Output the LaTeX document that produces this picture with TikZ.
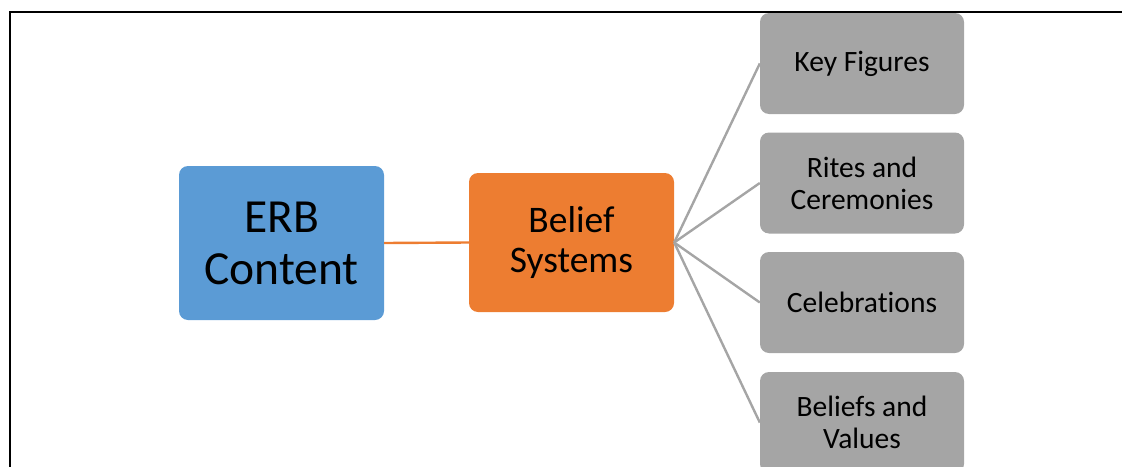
\documentclass[tikz,border=0pt]{standalone}
\usepackage{fontspec}
\setmainfont{Carlito}[Ligatures={NoCommon}]
\definecolor{erbblue}{RGB}{91,155,213}
\definecolor{erborange}{RGB}{237,125,49}
\definecolor{erbgrey}{RGB}{165,165,165}
\tikzset{
  box/.style={
    rectangle,
    rounded corners=9pt,
    align=center,
    inner sep=0pt,
    text=black
  },
  box-blue/.style={box, fill=erbblue, minimum width=205pt, minimum height=154pt,
    font=\fontsize{47.5}{52}\selectfont},
  box-orange/.style={box, fill=erborange, minimum width=205pt, minimum height=139pt,
    font=\fontsize{37.5}{40}\selectfont},
  box-grey/.style={box, fill=erbgrey, minimum width=204pt, minimum height=101pt,
    font=\fontsize{29.5}{32}\selectfont},
  link-orange/.style={draw=erborange, line width=2.4pt},
  link-grey/.style={draw=erbgrey, line width=2.4pt},
  frame/.style={draw=black, line width=2pt}
}

\begin{document}
\begin{tikzpicture}[x=1pt, y=-1pt]
  \useasboundingbox (0,0) rectangle (1122,466);
  \draw[frame] (10,12) rectangle (1160,500);

  % Main nodes
  \node[box-blue] (erb) at (281.5,243) {ERB\\Content};
  \node[box-orange] (belief) at (571.5,242.5) {Belief\\Systems};

  % Branches
  \node[box-grey] (figures) at (862,63.5) {Key Figures};
  \node[box-grey] (rites) at (862,183) {Rites and\\Ceremonies};
  \node[box-grey] (celebrations) at (862,302.5) {Celebrations};
  \node[box-grey] (values) at (862,422.5) {Beliefs and\\Values};

  % Connectors
  \draw[link-orange] (erb.east) -- (belief.west);
  \foreach \branch in {figures, rites, celebrations, values}
    \draw[link-grey] (belief.east) -- (\branch.west);
\end{tikzpicture}
\end{document}
